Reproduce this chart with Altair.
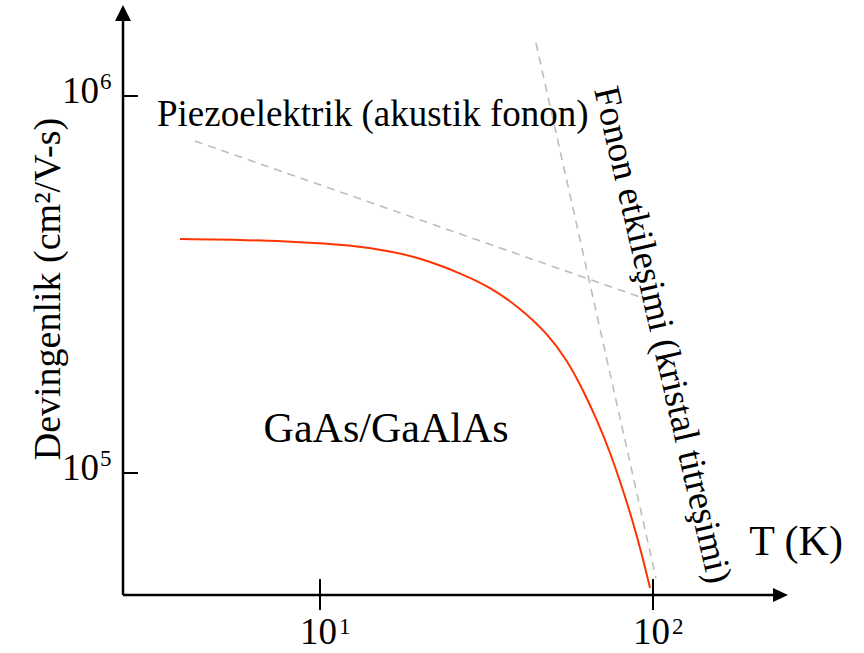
import altair as alt
import pandas as pd

# ---- data ----
curve_T = [3.798, 6.164, 8.709, 12.31, 16.23, 19.97, 26.33, 32.40, 39.86, 48.06,
           55.18, 61.64, 67.91, 74.28, 80.71, 87.09, 92.68, 97.95]
curve_mu = [4.176e5, 4.150e5, 4.100e5, 4.025e5, 3.880e5, 3.718e5, 3.393e5,
            3.114e5, 2.740e5, 2.351e5, 1.994e5, 1.660e5, 1.382e5, 1.137e5,
            9.180e4, 7.413e4, 6.061e4, 4.955e4]

piezo_T = [4.21, 93.3]
piezo_mu = [7.596e5, 2.912e5]

fonon_T = [44.5, 102.0]
fonon_mu = [1.382e6, 5.266e4]

x_ticks = [10, 100]
x_exp = ["1", "2"]
y_ticks = [1e5, 1e6]
y_exp = ["5", "6"]

T_DOMAIN = [2.561, 266.9]
MU_DOMAIN = [47466, 1.7434e6]
X_AXIS_END = 240.6       # end of x axis line (arrow base)
X_ARROW_TIP = 254.3
Y_AXIS_END = 1.591e6     # end of y axis line (arrow base)
X_TICK_SPAN = [52330, 43300]
Y_TICK_SPAN = [2.561, 2.841]

labels = pd.DataFrame({
    "T": [3.24, 15.79, 268.8],
    "mu": [8.325e5, 1.208e5, 60610],
    "text": ["Piezoelektrik (akustik fonon)", "GaAs/GaAlAs", "T (K)"],
    "size": [37, 42, 42],
    "align": ["left", "center", "center"],
})

FONT = "Liberation Serif"
xs = alt.Scale(type="log", domain=T_DOMAIN, nice=False)
ys = alt.Scale(type="log", domain=MU_DOMAIN, nice=False)


def X(f="T"):
    return alt.X(f + ":Q", scale=xs, axis=None)


def Y(f="mu"):
    return alt.Y(f + ":Q", scale=ys, axis=None)


curve = alt.Chart(pd.DataFrame({"T": curve_T, "mu": curve_mu})).mark_line(
    color="#ff3300", strokeWidth=2, interpolate="basis", clip=False
).encode(x=X(), y=Y())

piezo = alt.Chart(pd.DataFrame({"T": piezo_T, "mu": piezo_mu})).mark_line(
    color="#bdbdbd", strokeWidth=1.6, strokeDash=[8, 6]
).encode(x=X(), y=Y())

fonon = alt.Chart(pd.DataFrame({"T": fonon_T, "mu": fonon_mu})).mark_line(
    color="#bdbdbd", strokeWidth=1.6, strokeDash=[8, 6]
).encode(x=X(), y=Y())

# axis lines
x_axis_line = alt.Chart(pd.DataFrame({"T": [T_DOMAIN[0]], "T2": [X_AXIS_END], "mu": [MU_DOMAIN[0]]})).mark_rule(
    color="black", strokeWidth=2.5
).encode(x=X(), x2="T2:Q", y=Y())

y_axis_line = alt.Chart(pd.DataFrame({"T": [T_DOMAIN[0]], "mu": [MU_DOMAIN[0]], "mu2": [Y_AXIS_END]})).mark_rule(
    color="black", strokeWidth=2.5
).encode(x=X(), y=Y(), y2="mu2:Q")

x_arrow = alt.Chart(pd.DataFrame({"T": [X_ARROW_TIP], "mu": [MU_DOMAIN[0]]})).mark_point(
    shape="M0,0L-1,-0.47L-1,0.47Z", size=900, filled=True, fill="black",
    strokeWidth=0, opacity=1
).encode(x=X(), y=Y())

y_arrow = alt.Chart(pd.DataFrame({"T": [T_DOMAIN[0]], "mu": [MU_DOMAIN[1]]})).mark_point(
    shape="M0,0L-0.5,1L0.5,1Z", size=1024, filled=True, fill="black",
    strokeWidth=0, opacity=1
).encode(x=X(), y=Y())

# ticks
x_tick_df = pd.DataFrame({"T": x_ticks, "mu": [X_TICK_SPAN[0]] * 2, "mu2": [X_TICK_SPAN[1]] * 2})
x_tick_rules = alt.Chart(x_tick_df).mark_rule(color="black", strokeWidth=2).encode(
    x=X(), y=Y(), y2="mu2:Q")

y_tick_df = pd.DataFrame({"mu": y_ticks, "T": [Y_TICK_SPAN[0]] * 2, "T2": [Y_TICK_SPAN[1]] * 2})
y_tick_rules = alt.Chart(y_tick_df).mark_rule(color="black", strokeWidth=2).encode(
    x=X(), x2="T2:Q", y=Y())

# tick labels
xl_df = pd.DataFrame({"T": x_ticks, "mu": [MU_DOMAIN[0]] * 2, "exp": x_exp})
xl_base = alt.Chart(xl_df).mark_text(
    text="10", font=FONT, fontSize=37, align="right", baseline="alphabetic",
    dx=17, dy=49, color="black"
).encode(x=X(), y=Y())
xl_exp = alt.Chart(xl_df).mark_text(
    font=FONT, fontSize=23, align="left", baseline="alphabetic",
    dx=19, dy=39, color="black"
).encode(x=X(), y=Y(), text="exp:N")

yl_df = pd.DataFrame({"mu": y_ticks, "T": [T_DOMAIN[0]] * 2, "exp": y_exp})
yl_base = alt.Chart(yl_df).mark_text(
    text="10", font=FONT, fontSize=37, align="right", baseline="alphabetic",
    dx=-24, dy=7, color="black"
).encode(x=X(), y=Y())
yl_exp = alt.Chart(yl_df).mark_text(
    font=FONT, fontSize=23, align="left", baseline="alphabetic",
    dx=-23, dy=-7, color="black"
).encode(x=X(), y=Y(), text="exp:N")

# annotations
ann_layers = []
for i in range(len(labels)):
    ann_layers.append(
        alt.Chart(labels.iloc[[i]]).mark_text(
            font=FONT, fontSize=int(labels["size"][i]), align=labels["align"][i],
            baseline="alphabetic", color="black"
        ).encode(x=X(), y=Y(), text="text:N")
    )

ytitle = alt.Chart(pd.DataFrame({"T": [1.536], "mu": [3.076e5], "text": ["Devingenlik (cm²/V-s)"]})).mark_text(
    font=FONT, fontSize=38, angle=270, align="center", baseline="middle", color="black"
).encode(x=X(), y=Y(), text="text:N")

fonon_label = alt.Chart(pd.DataFrame({"T": [106.4], "mu": [2.323e5], "text": ["Fonon etkileşimi (kristal titreşimi)"]})).mark_text(
    font=FONT, fontSize=37, angle=77, align="center", baseline="middle", color="black"
).encode(x=X(), y=Y(), text="text:N")

chart = alt.layer(
    piezo, fonon, curve,
    x_axis_line, y_axis_line, x_arrow, y_arrow,
    x_tick_rules, y_tick_rules,
    xl_base, xl_exp, yl_base, yl_exp,
    *ann_layers, ytitle, fonon_label
).properties(
    width=672, height=590,
    padding={"left": 123, "top": 5, "right": 69, "bottom": 58},
    autosize=alt.AutoSizeParams(type="none"),
    background="white",
).configure_view(stroke=None)

chart.save("out.html", embed_options={"renderer": "svg", "actions": False})
